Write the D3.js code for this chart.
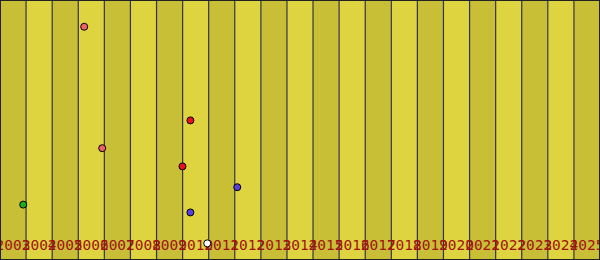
<!DOCTYPE html>
<meta charset="utf-8">
<html>
<head>
  <meta charset="utf-8">
  <script src="https://d3js.org/d3.v7.min.js"></script>
  <style>
    body { margin: 0; }
    svg { display: block; }
    .year { font-family: "DejaVu Sans Mono", monospace; font-size: 14.5px; fill: #a31212; text-anchor: middle; }
  </style>
</head>
<body>
  <svg width="600" height="260"></svg>

  <script>
    // data
    var years = d3.range(2003, 2026);
    var dates = ["2003-11-22", "2006-03-25", "2006-12-02", "2009-12-30", "2010-04-20", "2010-04-20", "2010-12-12", "2012-02-05"];
    var values = [21.3, 89.7, 43.0, 36.0, 53.7, 18.3, 6.4, 28.0];
    var colors = ["#22aa22", "#f0606a", "#f0606a", "#ee1111", "#ee1111", "#5a3ee0", "#ffffff", "#5a3ee0"];

    var parseDate = d3.timeParse("%Y-%m-%d");

    let svg = d3.select("svg"),
      width = +svg.attr("width"),
      height = +svg.attr("height");

    // scales
    let x = d3.scaleTime()
      .domain([new Date(2003, 0, 1), new Date(2026, 0, 1)])
      .range([0, width]);
    let y = d3.scaleLinear().domain([0, 100]).range([height, 0]);

    function yearStart(d) { return x(new Date(d, 0, 1)); }

    // year bands
    svg.selectAll(".band")
      .data(years)
      .enter()
      .append("rect")
      .attr("class", "band")
      .attr("x", yearStart)
      .attr("y", 0)
      .attr("width", function(d) { return yearStart(d + 1) - yearStart(d); })
      .attr("height", height)
      .attr("fill", function(d, i) { return i % 2 === 0 ? "#c9bf37" : "#ddd43f"; });

    // band edges
    svg.selectAll(".edge")
      .data(years.slice(1))
      .enter()
      .append("line")
      .attr("class", "edge")
      .attr("x1", yearStart)
      .attr("x2", yearStart)
      .attr("y1", 0)
      .attr("y2", height)
      .attr("stroke", "#333348")
      .attr("stroke-width", 1.2);

    // year labels
    svg.selectAll(".year")
      .data(years)
      .enter()
      .append("text")
      .attr("class", "year")
      .attr("x", function(d) { return (yearStart(d) + yearStart(d + 1)) / 2; })
      .attr("y", 249.5)
      .text(function(d) { return d; });

    // points
    svg.selectAll(".dot")
      .data(dates)
      .enter()
      .append("circle")
      .attr("class", "dot")
      .attr("cx", function(d) { return x(parseDate(d)); })
      .attr("cy", function(d, i) { return y(values[i]); })
      .attr("r", 3.5)
      .attr("fill", function(d, i) { return colors[i]; })
      .attr("stroke", "#000")
      .attr("stroke-width", 1);

    // frame
    svg.append("rect")
      .attr("x", 0.5)
      .attr("y", 0.5)
      .attr("width", width - 1)
      .attr("height", height - 1)
      .attr("fill", "none")
      .attr("stroke", "#222");
  </script>
</body>
</html>
